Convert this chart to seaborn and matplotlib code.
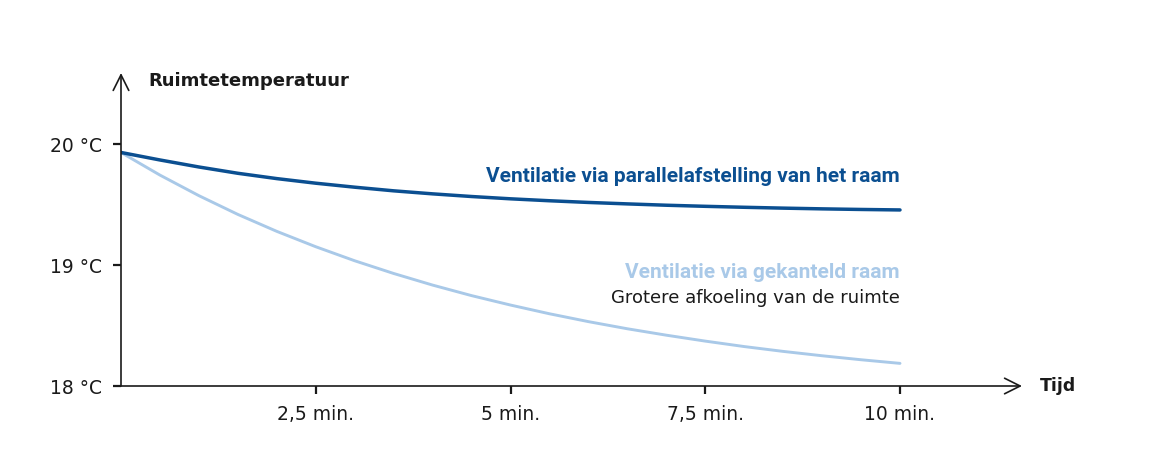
import pandas as pd
import numpy as np
import seaborn as sns
import matplotlib
from matplotlib import pyplot as plt
matplotlib.use('Agg')

# values (every half minute)
minutes = [0, 0.5, 1, 1.5, 2, 2.5, 3, 3.5, 4, 4.5, 5,
           5.5, 6, 6.5, 7, 7.5, 8, 8.5, 9, 9.5, 10]
temp_parallel = [19.930, 19.868, 19.810, 19.758, 19.714, 19.676, 19.643, 19.613, 19.588, 19.566, 19.547,
                 19.531, 19.517, 19.505, 19.494, 19.485, 19.477, 19.470, 19.464, 19.459, 19.455]
temp_tilted = [19.930, 19.743, 19.573, 19.418, 19.278, 19.151, 19.035, 18.930, 18.834, 18.747, 18.669,
               18.597, 18.532, 18.473, 18.420, 18.371, 18.326, 18.286, 18.250, 18.217, 18.187]

xticks = [2.5, 5, 7.5, 10]
xtick_labels = ['2,5 min.', '5 min.', '7,5 min.', '10 min.']
yticks = [18, 19, 20]
ytick_labels = ['18 °C', '19 °C', '20 °C']

dark_blue = '#0b4f91'
light_blue = '#a9c9e8'
ink = '#1a1a1a'

sns.set_style('white')
plt.rcParams['font.family'] = ['DejaVu Sans']

df = pd.DataFrame({
    'Tijd': minutes * 2,
    'Temp': temp_parallel + temp_tilted,
    'Serie': ['parallel'] * len(minutes) + ['gekanteld'] * len(minutes),
})

fig = plt.figure(figsize=(11.73, 4.61), dpi=100)
ax = fig.add_axes([121 / 1173, 75 / 461, (1022 - 121) / 1173, (386 - 73) / 461])

sns.lineplot(data=df[df['Serie'] == 'gekanteld'], x='Tijd', y='Temp', color=light_blue,
             linewidth=2.1, ax=ax, legend=False)
sns.lineplot(data=df[df['Serie'] == 'parallel'], x='Tijd', y='Temp', color=dark_blue,
             linewidth=2.5, ax=ax, legend=False)

ax.set_xlim(0, (1022 - 121) / 77.9)
ax.set_ylim(18, 18 + (386 - 73) / 121)

for s in ax.spines.values():
    s.set_visible(False)

# axes with open arrow heads
arrow = dict(arrowstyle='->', lw=1.2, color=ink, mutation_scale=28, shrinkA=0, shrinkB=0)
ax.annotate('', xy=(1, 0), xytext=(0, 0), xycoords='axes fraction', arrowprops=arrow)
ax.annotate('', xy=(0, 1), xytext=(0, 0), xycoords='axes fraction', arrowprops=arrow)

ax.set_xticks(xticks)
ax.set_xticklabels(xtick_labels)
ax.set_yticks(yticks)
ax.set_yticklabels(ytick_labels)
ax.tick_params(axis='both', direction='out', length=5.5, width=1.6, color=ink,
               labelsize=13.5, labelcolor=ink)
ax.tick_params(axis='x', pad=8, bottom=True)
ax.tick_params(axis='y', pad=8, left=True)
ax.set_xlabel('')
ax.set_ylabel('')
ax.grid(False)

ax.text(0.35, 20.52, 'Ruimtetemperatuur', fontsize=13, fontweight='bold', color=ink,
        va='center', ha='left')
ax.text(1.02, 0, 'Tijd', transform=ax.transAxes, fontsize=12.5, fontweight='bold', color=ink,
        va='center', ha='left')

bold_label = dict(fontsize=15, fontweight='bold', family=['Roboto', 'DejaVu Sans'],
                  ha='right', va='center')
ax.text(10, 19.735, 'Ventilatie via parallelafstelling van het raam', color=dark_blue, **bold_label)
ax.text(10, 18.94, 'Ventilatie via gekanteld raam', color=light_blue, **bold_label)
ax.text(10, 18.725, 'Grotere afkoeling van de ruimte', fontsize=13,
        color=ink, ha='right', va='center')

plt.savefig('out.png', dpi=100)
